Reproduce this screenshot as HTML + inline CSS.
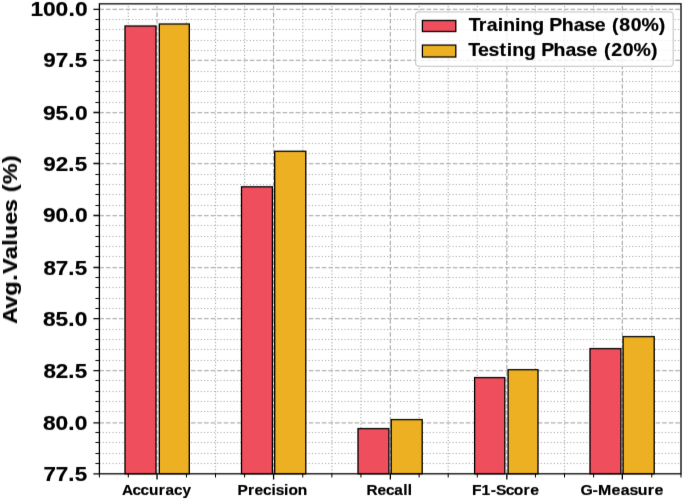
<!DOCTYPE html><html><head><meta charset="utf-8"><style>html,body{margin:0;padding:0;background:#fff;}svg{display:block;will-change:transform;}text{font-family:"Liberation Sans",sans-serif;font-weight:bold;fill:#000;stroke:#000;stroke-width:0.2px;}</style></head><body>
<svg width="685" height="501" viewBox="0 0 685 501">
<defs><filter id="soft" x="0" y="0" width="685" height="501" filterUnits="userSpaceOnUse" color-interpolation-filters="sRGB"><feConvolveMatrix order="3" kernelMatrix="0.00430 0.09790 0.00430 0.03178 0.72342 0.03178 0.00430 0.09790 0.00430" divisor="1" edgeMode="duplicate"/></filter></defs>
<g filter="url(#soft)">
<rect width="685" height="501" fill="#fff"/>
<path d="M99.40 463.50H681.00M99.40 453.50H681.00M99.40 442.50H681.00M99.40 432.50H681.00M99.40 411.50H681.00M99.40 401.50H681.00M99.40 391.50H681.00M99.40 380.50H681.00M99.40 360.50H681.00M99.40 349.50H681.00M99.40 339.50H681.00M99.40 329.50H681.00M99.40 308.50H681.00M99.40 298.50H681.00M99.40 287.50H681.00M99.40 277.50H681.00M99.40 256.50H681.00M99.40 246.50H681.00M99.40 236.50H681.00M99.40 225.50H681.00M99.40 205.50H681.00M99.40 194.50H681.00M99.40 184.50H681.00M99.40 174.50H681.00M99.40 153.50H681.00M99.40 143.50H681.00M99.40 133.50H681.00M99.40 122.50H681.00M99.40 102.50H681.00M99.40 91.50H681.00M99.40 81.50H681.00M99.40 71.50H681.00M99.40 50.50H681.00M99.40 40.50H681.00M99.40 29.50H681.00M99.40 19.50H681.00" stroke="#b0b0b0" stroke-width="1.2347" stroke-dasharray="1.2334 2.0351" fill="none"/>
<path d="M128.29 473.78V3.83M186.45 473.78V3.83M215.53 473.78V3.83M244.62 473.78V3.83M302.78 473.78V3.83M331.87 473.78V3.83M360.95 473.78V3.83M419.11 473.78V3.83M448.19 473.78V3.83M477.28 473.78V3.83M535.44 473.78V3.83M564.52 473.78V3.83M593.61 473.78V3.83M651.77 473.78V3.83" stroke="#b0b0b0" stroke-width="1.2347" stroke-dasharray="1.2314 2.0318" fill="none"/>
<path d="M99.40 422.83H681.00M99.40 370.60H681.00M99.40 318.63H681.00M99.40 267.51H681.00M99.40 215.51H681.00M99.40 163.51H681.00M99.40 112.51H681.00M99.40 60.43H681.00M99.40 9.46H681.00" stroke="#b0b0b0" stroke-width="1.2347" stroke-dasharray="4.5684 1.9755" fill="none"/>
<path d="M157.03 473.78V3.83M273.58 473.78V3.83M390.35 473.78V3.83M506.83 473.78V3.83M622.35 473.78V3.83" stroke="#b0b0b0" stroke-width="1.2347" stroke-dasharray="4.5558 1.9702" fill="none"/>
<rect x="125.00" y="26.00" width="31.00" height="447.78" fill="#EF4F5C" stroke="#000" stroke-width="1.3"/>
<rect x="159.30" y="24.00" width="30.00" height="449.78" fill="#ECB022" stroke="#000" stroke-width="1.3"/>
<rect x="241.50" y="186.80" width="30.90" height="286.98" fill="#EF4F5C" stroke="#000" stroke-width="1.3"/>
<rect x="274.70" y="151.30" width="31.10" height="322.48" fill="#ECB022" stroke="#000" stroke-width="1.3"/>
<rect x="358.00" y="428.60" width="30.90" height="45.18" fill="#EF4F5C" stroke="#000" stroke-width="1.3"/>
<rect x="391.20" y="419.60" width="31.00" height="54.18" fill="#ECB022" stroke="#000" stroke-width="1.3"/>
<rect x="474.60" y="377.60" width="30.20" height="96.18" fill="#EF4F5C" stroke="#000" stroke-width="1.3"/>
<rect x="508.10" y="369.70" width="29.90" height="104.08" fill="#ECB022" stroke="#000" stroke-width="1.3"/>
<rect x="590.00" y="348.60" width="30.90" height="125.18" fill="#EF4F5C" stroke="#000" stroke-width="1.3"/>
<rect x="623.10" y="336.60" width="31.10" height="137.18" fill="#ECB022" stroke="#000" stroke-width="1.3"/>
<rect x="99.4" y="3.83" width="581.60" height="469.95" fill="none" stroke="#000" stroke-width="1.3"/>
<path d="M99.40 473.78h-6.0M99.40 422.83h-6.0M99.40 370.60h-6.0M99.40 318.63h-6.0M99.40 267.51h-6.0M99.40 215.51h-6.0M99.40 163.51h-6.0M99.40 112.51h-6.0M99.40 60.43h-6.0M99.40 9.46h-6.0M157.03 473.78v5.8M273.58 473.78v5.8M390.35 473.78v5.8M506.83 473.78v5.8M622.35 473.78v5.8" stroke="#000" stroke-width="1.3" fill="none"/>
<path d="M99.40 463.50h-4.0M99.40 453.50h-4.0M99.40 442.50h-4.0M99.40 432.50h-4.0M99.40 411.50h-4.0M99.40 401.50h-4.0M99.40 391.50h-4.0M99.40 380.50h-4.0M99.40 360.50h-4.0M99.40 349.50h-4.0M99.40 339.50h-4.0M99.40 329.50h-4.0M99.40 308.50h-4.0M99.40 298.50h-4.0M99.40 287.50h-4.0M99.40 277.50h-4.0M99.40 256.50h-4.0M99.40 246.50h-4.0M99.40 236.50h-4.0M99.40 225.50h-4.0M99.40 205.50h-4.0M99.40 194.50h-4.0M99.40 184.50h-4.0M99.40 174.50h-4.0M99.40 153.50h-4.0M99.40 143.50h-4.0M99.40 133.50h-4.0M99.40 122.50h-4.0M99.40 102.50h-4.0M99.40 91.50h-4.0M99.40 81.50h-4.0M99.40 71.50h-4.0M99.40 50.50h-4.0M99.40 40.50h-4.0M99.40 29.50h-4.0M99.40 19.50h-4.0M99.40 473.78v3.7M128.29 473.78v3.7M186.45 473.78v3.7M215.53 473.78v3.7M244.62 473.78v3.7M302.78 473.78v3.7M331.87 473.78v3.7M360.95 473.78v3.7M419.11 473.78v3.7M448.19 473.78v3.7M477.28 473.78v3.7M535.44 473.78v3.7M564.52 473.78v3.7M593.61 473.78v3.7M651.77 473.78v3.7M681.00 473.78v3.7" stroke="#000" stroke-width="1.0" fill="none"/>
<text transform="translate(43.49 480.50) scale(1.1552 1)" x="-0.07 10.58 21.51 27.04" y="0" font-size="19.4">77.5</text>
<text transform="translate(43.16 429.50) scale(1.1715 1)" x="-0.07 10.58 21.51 27.04" y="0" font-size="19.4">80.0</text>
<text transform="translate(43.53 377.50) scale(1.1553 1)" x="-0.07 10.58 21.51 27.04" y="0" font-size="19.4">82.5</text>
<text transform="translate(43.16 325.50) scale(1.1715 1)" x="-0.07 10.58 21.51 27.04" y="0" font-size="19.4">85.0</text>
<text transform="translate(43.53 274.50) scale(1.1553 1)" x="-0.07 10.58 21.51 27.04" y="0" font-size="19.4">87.5</text>
<text transform="translate(43.19 221.50) scale(1.1737 1)" x="-0.07 10.58 21.51 27.04" y="0" font-size="19.4">90.0</text>
<text transform="translate(43.40 170.50) scale(1.1566 1)" x="-0.07 10.58 21.51 27.04" y="0" font-size="19.4">92.5</text>
<text transform="translate(43.19 119.50) scale(1.1737 1)" x="-0.07 10.58 21.51 27.04" y="0" font-size="19.4">95.0</text>
<text transform="translate(43.40 66.50) scale(1.1566 1)" x="-0.07 10.58 21.51 27.04" y="0" font-size="19.4">97.5</text>
<text transform="translate(30.56 15.50) scale(1.1740 1)" x="-0.05 10.62 21.30 32.26 37.81" y="0" font-size="19.4">100.0</text>
<text transform="translate(122.19 495.20) scale(1.0716 1)" x="-0.26 9.58 17.09 24.96 34.18 40.38 48.40 56.29" y="0" font-size="14.3">Accuracy</text>
<text transform="translate(237.83 495.20) scale(1.0799 1)" x="-0.21 9.40 15.49 23.39 31.20 35.04 42.86 46.89 55.58" y="0" font-size="14.3">Precision</text>
<text transform="translate(366.96 495.20) scale(1.0733 1)" x="-0.39 9.76 17.63 25.48 33.78 38.02" y="0" font-size="14.3">Recall</text>
<text transform="translate(472.04 495.20) scale(1.0962 1)" x="-0.16 8.73 17.17 21.78 30.66 38.16 47.01 53.04" y="0" font-size="14.3">F1-Score</text>
<text transform="translate(581.18 495.20) scale(1.1127 1)" x="-0.56 10.16 15.18 27.36 35.60 43.35 50.92 59.85 65.80" y="0" font-size="14.3">G-Measure</text>
<rect x="415.6" y="11.9" width="257.6" height="54.4" rx="3.2" fill="#fff" fill-opacity="0.8" stroke="#cccccc" stroke-width="1.23"/>
<rect x="422.4" y="20.5" width="33.4" height="11" fill="#EF4F5C" stroke="#000" stroke-width="1.3"/>
<rect x="422.4" y="45.1" width="33.4" height="11.9" fill="#ECB022" stroke="#000" stroke-width="1.3"/>
<text transform="translate(468.99 30.90) scale(1.1122 1)" x="-0.30 8.71 15.89 25.85 30.74 41.46 46.35 56.91 67.69 72.28 83.46 94.20 103.60 113.02 123.05 128.52 135.10 145.39 155.04 170.70" y="0" font-size="17.5">Training Phase (80%)</text>
<text transform="translate(468.64 56.10) scale(1.1125 1)" x="-0.28 8.32 17.77 27.69 34.26 39.17 49.76 60.57 65.19 76.40 87.17 96.59 106.04 116.09 121.58 128.18 138.51 148.19 163.88" y="0" font-size="17.5">Testing Phase (20%)</text>
<text transform="translate(17.00 323.24) rotate(-90) scale(1.1557 1)" x="-0.63 12.70 23.93 36.73 42.74 55.39 66.96 72.69 85.21 96.18 107.12 113.49 120.44 138.63" y="0" font-size="20.2">Avg.Values (%)</text>
</g>
</svg></body></html>
